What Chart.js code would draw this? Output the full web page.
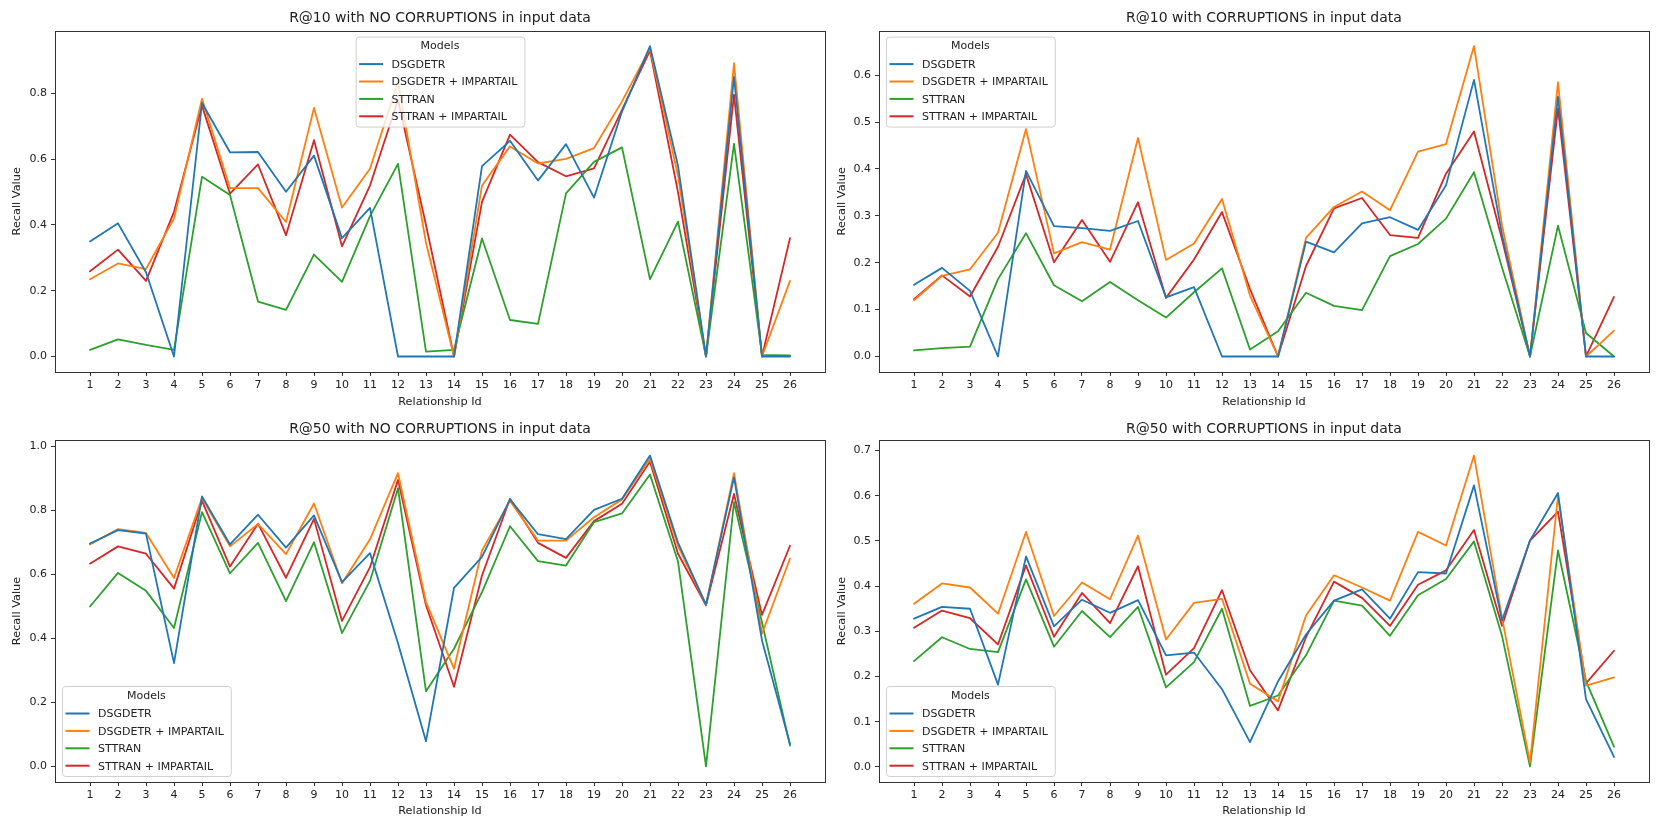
<!DOCTYPE html>
<html>
<head>
<meta charset="utf-8">
<script src="https://cdn.jsdelivr.net/npm/chart.js@4.4.1/dist/chart.umd.min.js"></script>
<style>
  html, body { margin: 0; padding: 0; background: #fff; }
  #page { position: relative; width: 1661px; height: 830px; overflow: hidden; }
  .panel { position: absolute; }
</style>
</head>
<body>
<div id="page">
  <div class="panel" style="left:0;top:0;width:830px;height:415px"><canvas id="c1"></canvas></div>
  <div class="panel" style="left:830px;top:0;width:831px;height:415px"><canvas id="c2"></canvas></div>
  <div class="panel" style="left:0;top:415px;width:830px;height:415px"><canvas id="c3"></canvas></div>
  <div class="panel" style="left:830px;top:415px;width:831px;height:415px"><canvas id="c4"></canvas></div>
</div>
<script>
// Chart data
const relationshipIds = [1, 2, 3, 4, 5, 6, 7, 8, 9, 10, 11, 12, 13, 14, 15, 16, 17, 18, 19, 20, 21, 22, 23, 24, 25, 26];
const modelNames = ['DSGDETR', 'DSGDETR + IMPARTAIL', 'STTRAN', 'STTRAN + IMPARTAIL'];

// R@10, no corruptions
const r10CleanDsgdetr = [0.350, 0.405, 0.256, 0.0, 0.771, 0.621, 0.622, 0.501, 0.611, 0.360, 0.452, 0.0, 0.0, 0.0, 0.579, 0.656, 0.535, 0.646, 0.483, 0.745, 0.944, 0.580, 0.0, 0.850, 0.0, 0.0];
const r10CleanDsgdetrImp = [0.235, 0.283, 0.266, 0.420, 0.784, 0.512, 0.512, 0.409, 0.756, 0.453, 0.571, 0.836, 0.346, 0.0, 0.520, 0.639, 0.587, 0.601, 0.634, 0.776, 0.937, 0.550, 0.0, 0.892, 0.0, 0.230];
const r10CleanSttran = [0.020, 0.052, 0.035, 0.020, 0.547, 0.491, 0.167, 0.142, 0.310, 0.227, 0.427, 0.586, 0.015, 0.020, 0.359, 0.111, 0.099, 0.496, 0.592, 0.636, 0.235, 0.410, 0.0, 0.647, 0.005, 0.003];
const r10CleanSttranImp = [0.259, 0.325, 0.230, 0.440, 0.763, 0.495, 0.584, 0.369, 0.658, 0.335, 0.520, 0.780, 0.400, 0.0, 0.470, 0.675, 0.591, 0.548, 0.572, 0.750, 0.930, 0.500, 0.0, 0.796, 0.0, 0.360];

// R@10, with corruptions
const r10CorrDsgdetr = [0.153, 0.189, 0.140, 0.0, 0.396, 0.278, 0.274, 0.268, 0.289, 0.126, 0.148, 0.0, 0.0, 0.0, 0.245, 0.222, 0.284, 0.297, 0.270, 0.365, 0.590, 0.260, 0.0, 0.554, 0.0, 0.0];
const r10CorrDsgdetrImp = [0.120, 0.172, 0.186, 0.264, 0.485, 0.220, 0.244, 0.228, 0.466, 0.206, 0.241, 0.336, 0.130, 0.0, 0.253, 0.319, 0.352, 0.312, 0.437, 0.453, 0.662, 0.280, 0.0, 0.585, 0.0, 0.055];
const r10CorrSttran = [0.013, 0.018, 0.021, 0.165, 0.263, 0.152, 0.118, 0.159, 0.120, 0.083, 0.137, 0.188, 0.015, 0.054, 0.136, 0.108, 0.099, 0.214, 0.240, 0.294, 0.393, 0.190, 0.0, 0.279, 0.050, 0.0];
const r10CorrSttranImp = [0.122, 0.173, 0.128, 0.234, 0.389, 0.201, 0.291, 0.202, 0.329, 0.125, 0.207, 0.308, 0.144, 0.0, 0.193, 0.316, 0.338, 0.259, 0.253, 0.390, 0.480, 0.250, 0.0, 0.529, 0.0, 0.127];

// R@50, no corruptions
const r50CleanDsgdetr = [0.697, 0.739, 0.728, 0.323, 0.844, 0.694, 0.787, 0.684, 0.785, 0.576, 0.667, 0.385, 0.079, 0.558, 0.655, 0.835, 0.726, 0.711, 0.802, 0.837, 0.972, 0.700, 0.506, 0.904, 0.394, 0.070];
const r50CleanDsgdetrImp = [0.694, 0.742, 0.730, 0.589, 0.839, 0.688, 0.758, 0.664, 0.822, 0.573, 0.710, 0.917, 0.514, 0.306, 0.675, 0.830, 0.706, 0.706, 0.779, 0.835, 0.962, 0.690, 0.505, 0.917, 0.415, 0.650];
const r50CleanSttran = [0.500, 0.605, 0.549, 0.433, 0.795, 0.604, 0.699, 0.517, 0.701, 0.417, 0.580, 0.870, 0.235, 0.368, 0.545, 0.751, 0.642, 0.628, 0.764, 0.791, 0.913, 0.641, 0.0, 0.826, 0.450, 0.065];
const r50CleanSttranImp = [0.634, 0.688, 0.665, 0.556, 0.830, 0.625, 0.759, 0.590, 0.774, 0.455, 0.623, 0.896, 0.504, 0.249, 0.597, 0.837, 0.699, 0.652, 0.767, 0.821, 0.953, 0.665, 0.504, 0.852, 0.474, 0.690];

// R@50, with corruptions
const r50CorrDsgdetr = [0.328, 0.354, 0.350, 0.182, 0.466, 0.311, 0.370, 0.341, 0.369, 0.247, 0.253, 0.172, 0.055, 0.189, 0.293, 0.368, 0.393, 0.328, 0.431, 0.428, 0.623, 0.324, 0.501, 0.606, 0.150, 0.022];
const r50CorrDsgdetrImp = [0.361, 0.406, 0.397, 0.339, 0.520, 0.334, 0.408, 0.371, 0.512, 0.282, 0.363, 0.372, 0.184, 0.145, 0.335, 0.424, 0.397, 0.368, 0.520, 0.490, 0.689, 0.330, 0.010, 0.600, 0.180, 0.198];
const r50CorrSttran = [0.234, 0.287, 0.261, 0.254, 0.415, 0.266, 0.345, 0.287, 0.354, 0.176, 0.232, 0.350, 0.135, 0.158, 0.247, 0.368, 0.357, 0.290, 0.380, 0.416, 0.499, 0.290, 0.001, 0.479, 0.190, 0.045];
const r50CorrSttranImp = [0.308, 0.346, 0.329, 0.271, 0.446, 0.288, 0.385, 0.318, 0.444, 0.204, 0.263, 0.391, 0.214, 0.125, 0.287, 0.410, 0.374, 0.312, 0.403, 0.435, 0.524, 0.312, 0.501, 0.565, 0.185, 0.257];

const yTicksR10Clean = [0.0, 0.2, 0.4, 0.6, 0.8];
const yTicksR10Corr = [0.0, 0.1, 0.2, 0.3, 0.4, 0.5, 0.6];
const yTicksR50Clean = [0.0, 0.2, 0.4, 0.6, 0.8, 1.0];
const yTicksR50Corr = [0.0, 0.1, 0.2, 0.3, 0.4, 0.5, 0.6, 0.7];

const modelColors = ['#1f77b4', '#ff7f0e', '#2ca02c', '#d62728'];
const FONT = 'DejaVu Sans';

Chart.defaults.font.family = FONT;
Chart.defaults.color = '#222';

// axes box drawn on all four sides like matplotlib
const framePlugin = {
  id: 'frame',
  afterDraw(chart) {
    const a = chart.chartArea;
    const ctx = chart.ctx;
    ctx.save();
    ctx.strokeStyle = '#333';
    ctx.lineWidth = 1;
    ctx.strokeRect(Math.round(a.left) + 0.5, Math.round(a.top) + 0.5,
      Math.round(a.right - a.left), Math.round(a.bottom - a.top));
    ctx.restore();
  }
};

// legend with title, placed inside the plot area
const innerLegendPlugin = {
  id: 'innerLegend',
  afterDraw(chart, args, opts) {
    const a = chart.chartArea;
    const ctx = chart.ctx;
    ctx.save();
    ctx.font = '11px "' + FONT + '"';
    const sets = chart.data.datasets;
    const textW = Math.max(...sets.map(d => ctx.measureText(d.label).width));
    const w = 36 + textW + 7;
    const h = 90;
    let x, y;
    if (opts.loc === 'upper center') {
      x = (a.left + a.right) / 2 - w / 2;
      y = a.top + 6;
    } else if (opts.loc === 'upper left') {
      x = a.left + 7;
      y = a.top + 6;
    } else {
      x = a.left + 7;
      y = a.bottom - 6 - h;
    }
    ctx.beginPath();
    ctx.roundRect(x + 0.5, y + 0.5, w, h, 3);
    ctx.fillStyle = 'rgba(255,255,255,0.8)';
    ctx.fill();
    ctx.strokeStyle = '#d0d0d0';
    ctx.lineWidth = 1;
    ctx.stroke();

    ctx.fillStyle = '#222';
    ctx.textBaseline = 'middle';
    ctx.textAlign = 'center';
    ctx.fillText('Models', x + w / 2, y + 10);
    ctx.textAlign = 'left';
    sets.forEach((d, i) => {
      const ry = y + 27.5 + i * 17.4;
      ctx.beginPath();
      ctx.moveTo(x + 3.5, ry);
      ctx.lineTo(x + 27.5, ry);
      ctx.strokeStyle = d.borderColor;
      ctx.lineWidth = 2;
      ctx.stroke();
      ctx.fillText(d.label, x + 36, ry + 1);
    });
    ctx.restore();
  }
};

function paddedRange(seriesList) {
  const all = [].concat(...seriesList);
  const lo = Math.min(...all), hi = Math.max(...all);
  const m = (hi - lo) * 0.05;
  return { min: lo - m, max: hi + m };
}

function makePanel(cfg) {
  const range = paddedRange(cfg.series);
  const datasets = cfg.series.map((vals, i) => ({
    label: modelNames[i],
    data: relationshipIds.map((id, k) => ({ x: id, y: vals[k] })),
    borderColor: modelColors[i],
    backgroundColor: modelColors[i],
    borderWidth: 1.8,
    borderJoinStyle: 'round',
    borderCapStyle: 'round',
    pointRadius: 0,
    tension: 0,
    fill: false
  }));

  new Chart(document.getElementById(cfg.id), {
    type: 'line',
    data: { datasets },
    plugins: [framePlugin, innerLegendPlugin],
    options: {
      responsive: true,
      maintainAspectRatio: false,
      animation: false,
      layout: { padding: { left: 0, right: cfg.padRight, top: 0, bottom: 0 } },
      plugins: {
        legend: { display: false },
        tooltip: { enabled: false },
        title: {
          display: true,
          text: cfg.title,
          fullSize: false,
          color: '#222',
          font: { size: 14, weight: 'normal', lineHeight: 1.2 },
          padding: cfg.titlePad
        },
        innerLegend: { loc: cfg.legend }
      },
      scales: {
        x: {
          type: 'linear',
          min: 1 - 1.25,
          max: 26 + 1.25,
          afterBuildTicks: scale => { scale.ticks = relationshipIds.map(v => ({ value: v })); },
          afterFit: scale => { scale.height = cfg.xHeight; },
          ticks: { autoSkip: false, maxRotation: 0, padding: 3, font: { size: 11 }, color: '#222' },
          grid: { display: true, drawOnChartArea: false, drawTicks: true, tickLength: 4, color: '#333' },
          border: { display: false },
          title: { display: true, text: 'Relationship Id', font: { size: 11.3 }, color: '#222', padding: { top: 0, bottom: cfg.xTitlePad } }
        },
        y: {
          min: range.min,
          max: range.max,
          afterBuildTicks: scale => { scale.ticks = cfg.yTicks.map(v => ({ value: v })); },
          afterFit: scale => { scale.width = cfg.yWidth; },
          ticks: { padding: 4, font: { size: 11 }, color: '#222', callback: v => v.toFixed(1) },
          grid: { display: true, drawOnChartArea: false, drawTicks: true, tickLength: 4, color: '#333' },
          border: { display: false },
          title: { display: true, text: 'Recall Value', font: { size: 11.3 }, color: '#222', padding: { top: cfg.yTitlePad, bottom: 0 } }
        }
      }
    }
  });
}

makePanel({
  id: 'c1', title: 'R@10 with NO CORRUPTIONS in input data',
  series: [r10CleanDsgdetr, r10CleanDsgdetrImp, r10CleanSttran, r10CleanSttranImp],
  yTicks: yTicksR10Clean, legend: 'upper center',
  yWidth: 55, yTitlePad: 10.2, padRight: 5,
  titlePad: { top: 9.6, bottom: 4.2 }, xHeight: 43, xTitlePad: 6.2
});
makePanel({
  id: 'c2', title: 'R@10 with CORRUPTIONS in input data',
  series: [r10CorrDsgdetr, r10CorrDsgdetrImp, r10CorrSttran, r10CorrSttranImp],
  yTicks: yTicksR10Corr, legend: 'upper left',
  yWidth: 49, yTitlePad: 5.2, padRight: 12,
  titlePad: { top: 9.6, bottom: 4.2 }, xHeight: 43, xTitlePad: 6.2
});
makePanel({
  id: 'c3', title: 'R@50 with NO CORRUPTIONS in input data',
  series: [r50CleanDsgdetr, r50CleanDsgdetrImp, r50CleanSttran, r50CleanSttranImp],
  yTicks: yTicksR50Clean, legend: 'lower left',
  yWidth: 55, yTitlePad: 10.2, padRight: 5,
  titlePad: { top: 5.6, bottom: 2.6 }, xHeight: 48, xTitlePad: 12.2
});
makePanel({
  id: 'c4', title: 'R@50 with CORRUPTIONS in input data',
  series: [r50CorrDsgdetr, r50CorrDsgdetrImp, r50CorrSttran, r50CorrSttranImp],
  yTicks: yTicksR50Corr, legend: 'lower left',
  yWidth: 49, yTitlePad: 5.2, padRight: 12,
  titlePad: { top: 5.6, bottom: 2.6 }, xHeight: 48, xTitlePad: 12.2
});
</script>
</body>
</html>
